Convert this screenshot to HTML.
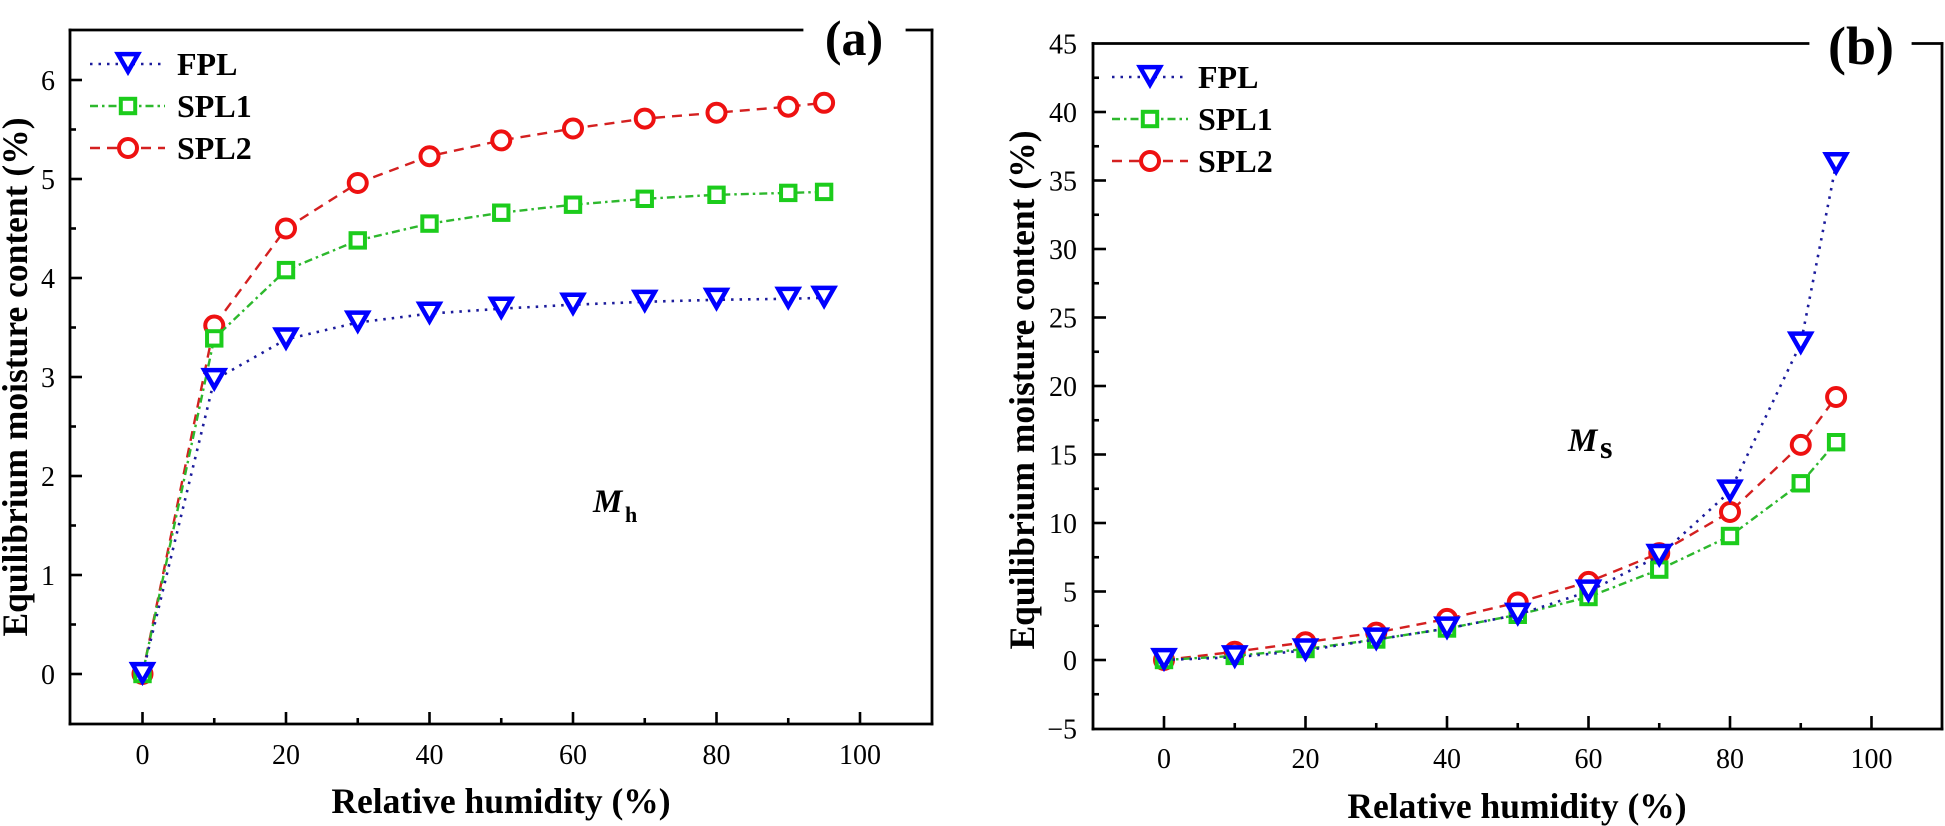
<!DOCTYPE html>
<html><head><meta charset="utf-8"><style>
html,body{margin:0;padding:0;background:#fff;}
svg{display:block;}
text{font-family:"Liberation Serif","Times New Roman",serif;fill:#000;}
</style></head><body>
<svg width="1945" height="826" viewBox="0 0 1945 826" xmlns="http://www.w3.org/2000/svg">
<defs>
<g id="tri"><path d="M-10,-9.9 L10,-9.9 L0,7.6 Z" fill="#fff" stroke="#0000ff" stroke-width="4.5" stroke-linejoin="miter"/></g>
<g id="sq"><rect x="-7.2" y="-7.2" width="14.4" height="14.4" fill="#fff" stroke="#1ccc1c" stroke-width="4"/></g>
<g id="ci"><circle r="9" fill="#fff" stroke="#ee1111" stroke-width="4"/></g>
</defs>
<rect width="1945" height="826" fill="#fff"/>

<!-- ================= PANEL A ================= -->
<g stroke="#000" stroke-width="2.8" fill="none" stroke-linecap="square">
<line x1="70" y1="30" x2="70" y2="724"/>
<line x1="70" y1="724" x2="932" y2="724"/>
<line x1="932" y1="30" x2="932" y2="724"/>
<line x1="70" y1="30" x2="802" y2="30"/>
<line x1="907" y1="30" x2="932" y2="30"/>
</g>
<g stroke="#000" stroke-width="2.6">
<!-- y major -->
<line x1="70" y1="674" x2="82" y2="674"/><line x1="70" y1="575" x2="82" y2="575"/><line x1="70" y1="476" x2="82" y2="476"/><line x1="70" y1="377" x2="82" y2="377"/><line x1="70" y1="278" x2="82" y2="278"/><line x1="70" y1="179" x2="82" y2="179"/><line x1="70" y1="80" x2="82" y2="80"/>
<!-- y minor -->
<line x1="70" y1="624.5" x2="76" y2="624.5"/><line x1="70" y1="525.5" x2="76" y2="525.5"/><line x1="70" y1="426.5" x2="76" y2="426.5"/><line x1="70" y1="327.5" x2="76" y2="327.5"/><line x1="70" y1="228.5" x2="76" y2="228.5"/><line x1="70" y1="129.5" x2="76" y2="129.5"/>
<!-- x major -->
<line x1="142.5" y1="724" x2="142.5" y2="712"/><line x1="286" y1="724" x2="286" y2="712"/><line x1="429.5" y1="724" x2="429.5" y2="712"/><line x1="573" y1="724" x2="573" y2="712"/><line x1="716.5" y1="724" x2="716.5" y2="712"/><line x1="860" y1="724" x2="860" y2="712"/>
<!-- x minor -->
<line x1="214.25" y1="724" x2="214.25" y2="718"/><line x1="357.75" y1="724" x2="357.75" y2="718"/><line x1="501.25" y1="724" x2="501.25" y2="718"/><line x1="644.75" y1="724" x2="644.75" y2="718"/><line x1="788.25" y1="724" x2="788.25" y2="718"/>
</g>
<g font-size="28" text-anchor="end">
<text x="55" y="684">0</text><text x="55" y="585">1</text><text x="55" y="486">2</text><text x="55" y="387">3</text><text x="55" y="288">4</text><text x="55" y="189">5</text><text x="55" y="90">6</text>
</g>
<g font-size="28" text-anchor="middle">
<text x="142.5" y="764">0</text><text x="286" y="764">20</text><text x="429.5" y="764">40</text><text x="573" y="764">60</text><text x="716.5" y="764">80</text><text x="860" y="764">100</text>
</g>
<text x="501" y="813" font-size="35.5" font-weight="bold" text-anchor="middle">Relative humidity (%)</text>
<text transform="translate(27,377) rotate(-90)" font-size="35.5" font-weight="bold" text-anchor="middle">Equilibrium moisture content (%)</text>
<text x="854" y="55" font-size="50" font-weight="bold" text-anchor="middle">(a)</text>

<!-- series A -->
<polyline fill="none" stroke="#d42020" stroke-width="2.4" stroke-dasharray="10 7" points="142.5,674 214.25,325.5 286,228.5 357.75,183 429.5,156.2 501.25,140.4 573,128.5 644.75,118.6 716.5,112.7 788.25,106.7 824.1,102.8"/>
<g><use href="#ci" x="142.5" y="674"/><use href="#ci" x="214.25" y="325.5"/><use href="#ci" x="286" y="228.5"/><use href="#ci" x="357.75" y="183"/><use href="#ci" x="429.5" y="156.2"/><use href="#ci" x="501.25" y="140.4"/><use href="#ci" x="573" y="128.5"/><use href="#ci" x="644.75" y="118.6"/><use href="#ci" x="716.5" y="112.7"/><use href="#ci" x="788.25" y="106.7"/><use href="#ci" x="824.1" y="102.8"/></g>
<polyline fill="none" stroke="#2db82d" stroke-width="2.4" stroke-dasharray="8 4 2.5 4" points="142.5,674 214.25,338.4 286,270.1 357.75,240.4 429.5,223.6 501.25,212.7 573,204.7 644.75,198.8 716.5,194.8 788.25,192.9 824.1,191.9"/>
<g><use href="#sq" x="142.5" y="674"/><use href="#sq" x="214.25" y="338.4"/><use href="#sq" x="286" y="270.1"/><use href="#sq" x="357.75" y="240.4"/><use href="#sq" x="429.5" y="223.6"/><use href="#sq" x="501.25" y="212.7"/><use href="#sq" x="573" y="204.7"/><use href="#sq" x="644.75" y="198.8"/><use href="#sq" x="716.5" y="194.8"/><use href="#sq" x="788.25" y="192.9"/><use href="#sq" x="824.1" y="191.9"/></g>
<polyline fill="none" stroke="#1c1c9c" stroke-width="2.6" stroke-dasharray="2.5 6" points="142.5,674 214.25,380 286,339.4 357.75,322.5 429.5,313.6 501.25,308.7 573,304.7 644.75,301.8 716.5,299.8 788.25,298.8 824.1,297.8"/>
<g><use href="#tri" x="142.5" y="674"/><use href="#tri" x="214.25" y="380"/><use href="#tri" x="286" y="339.4"/><use href="#tri" x="357.75" y="322.5"/><use href="#tri" x="429.5" y="313.6"/><use href="#tri" x="501.25" y="308.7"/><use href="#tri" x="573" y="304.7"/><use href="#tri" x="644.75" y="301.8"/><use href="#tri" x="716.5" y="299.8"/><use href="#tri" x="788.25" y="298.8"/><use href="#tri" x="824.1" y="297.8"/></g>

<!-- legend A -->
<line x1="90" y1="64" x2="165" y2="64" stroke="#1c1c9c" stroke-width="2.6" stroke-dasharray="2.5 6"/>
<use href="#tri" x="128" y="64"/>
<line x1="90" y1="106" x2="165" y2="106" stroke="#2db82d" stroke-width="2.4" stroke-dasharray="8 4 2.5 4"/>
<use href="#sq" x="128" y="106"/>
<line x1="90" y1="148" x2="165" y2="148" stroke="#d42020" stroke-width="2.4" stroke-dasharray="10 7"/>
<use href="#ci" x="128" y="148"/>
<g font-size="32" font-weight="bold">
<text x="177" y="75">FPL</text><text x="177" y="117">SPL1</text><text x="177" y="159">SPL2</text>
</g>
<text x="593" y="512" font-size="33" font-weight="bold" font-style="italic">M</text>
<text x="625" y="522" font-size="22" font-weight="bold">h</text>

<!-- ================= PANEL B ================= -->
<g stroke="#000" stroke-width="2.8" fill="none" stroke-linecap="square">
<line x1="1093" y1="43.5" x2="1093" y2="729"/>
<line x1="1093" y1="729" x2="1942" y2="729"/>
<line x1="1942" y1="43.5" x2="1942" y2="729"/>
<line x1="1093" y1="43.5" x2="1808" y2="43.5"/>
<line x1="1913" y1="43.5" x2="1942" y2="43.5"/>
</g>
<g stroke="#000" stroke-width="2.6">
<line x1="1093" y1="660" x2="1106" y2="660"/><line x1="1093" y1="591.5" x2="1106" y2="591.5"/><line x1="1093" y1="523" x2="1106" y2="523"/><line x1="1093" y1="454.5" x2="1106" y2="454.5"/><line x1="1093" y1="386" x2="1106" y2="386"/><line x1="1093" y1="317.5" x2="1106" y2="317.5"/><line x1="1093" y1="249" x2="1106" y2="249"/><line x1="1093" y1="180.5" x2="1106" y2="180.5"/><line x1="1093" y1="112" x2="1106" y2="112"/>
<line x1="1093" y1="694.25" x2="1099" y2="694.25"/><line x1="1093" y1="625.75" x2="1099" y2="625.75"/><line x1="1093" y1="557.25" x2="1099" y2="557.25"/><line x1="1093" y1="488.75" x2="1099" y2="488.75"/><line x1="1093" y1="420.25" x2="1099" y2="420.25"/><line x1="1093" y1="351.75" x2="1099" y2="351.75"/><line x1="1093" y1="283.25" x2="1099" y2="283.25"/><line x1="1093" y1="214.75" x2="1099" y2="214.75"/><line x1="1093" y1="146.25" x2="1099" y2="146.25"/><line x1="1093" y1="77.75" x2="1099" y2="77.75"/>
<line x1="1164" y1="729" x2="1164" y2="716"/><line x1="1305.5" y1="729" x2="1305.5" y2="716"/><line x1="1447" y1="729" x2="1447" y2="716"/><line x1="1588.5" y1="729" x2="1588.5" y2="716"/><line x1="1730" y1="729" x2="1730" y2="716"/><line x1="1871.5" y1="729" x2="1871.5" y2="716"/>
<line x1="1234.75" y1="729" x2="1234.75" y2="723"/><line x1="1376.25" y1="729" x2="1376.25" y2="723"/><line x1="1517.75" y1="729" x2="1517.75" y2="723"/><line x1="1659.25" y1="729" x2="1659.25" y2="723"/><line x1="1800.75" y1="729" x2="1800.75" y2="723"/>
</g>
<g font-size="28" text-anchor="end">
<text x="1077" y="738.5">−5</text><text x="1077" y="670">0</text><text x="1077" y="601.5">5</text><text x="1077" y="533">10</text><text x="1077" y="464.5">15</text><text x="1077" y="396">20</text><text x="1077" y="327.5">25</text><text x="1077" y="259">30</text><text x="1077" y="190.5">35</text><text x="1077" y="122">40</text><text x="1077" y="53.5">45</text>
</g>
<g font-size="28" text-anchor="middle">
<text x="1164" y="768">0</text><text x="1305.5" y="768">20</text><text x="1447" y="768">40</text><text x="1588.5" y="768">60</text><text x="1730" y="768">80</text><text x="1871.5" y="768">100</text>
</g>
<text x="1517" y="818" font-size="35.5" font-weight="bold" text-anchor="middle">Relative humidity (%)</text>
<text transform="translate(1034,390) rotate(-90)" font-size="35.5" font-weight="bold" text-anchor="middle">Equilibrium moisture content (%)</text>
<text x="1861" y="64" font-size="54" font-weight="bold" text-anchor="middle">(b)</text>

<!-- series B -->
<polyline fill="none" stroke="#d42020" stroke-width="2.4" stroke-dasharray="10 7" points="1164,660 1234.75,651.8 1305.5,642.2 1376.25,632.6 1447,618.9 1517.75,602.5 1588.5,581.9 1659.25,553.1 1730,512 1800.75,444.9 1836.1,397"/>
<g><use href="#ci" x="1164" y="660"/><use href="#ci" x="1234.75" y="651.8"/><use href="#ci" x="1305.5" y="642.2"/><use href="#ci" x="1376.25" y="632.6"/><use href="#ci" x="1447" y="618.9"/><use href="#ci" x="1517.75" y="602.5"/><use href="#ci" x="1588.5" y="581.9"/><use href="#ci" x="1659.25" y="553.1"/><use href="#ci" x="1730" y="512"/><use href="#ci" x="1800.75" y="444.9"/><use href="#ci" x="1836.1" y="397"/></g>
<polyline fill="none" stroke="#2db82d" stroke-width="2.4" stroke-dasharray="8 4 2.5 4" points="1164,660 1234.75,655.9 1305.5,649 1376.25,639.5 1447,628.5 1517.75,614.8 1588.5,597 1659.25,569.6 1730,536 1800.75,483.3 1836.1,442.2"/>
<g><use href="#sq" x="1164" y="660"/><use href="#sq" x="1234.75" y="655.9"/><use href="#sq" x="1305.5" y="649"/><use href="#sq" x="1376.25" y="639.5"/><use href="#sq" x="1447" y="628.5"/><use href="#sq" x="1517.75" y="614.8"/><use href="#sq" x="1588.5" y="597"/><use href="#sq" x="1659.25" y="569.6"/><use href="#sq" x="1730" y="536"/><use href="#sq" x="1800.75" y="483.3"/><use href="#sq" x="1836.1" y="442.2"/></g>
<polyline fill="none" stroke="#1c1c9c" stroke-width="2.6" stroke-dasharray="2.5 6" points="1164,660 1234.75,657.3 1305.5,650.4 1376.25,639.5 1447,628.5 1517.75,614.8 1588.5,591.5 1659.25,555.9 1730,491.5 1800.75,343.5 1836.1,164.1"/>
<g><use href="#tri" x="1164" y="660"/><use href="#tri" x="1234.75" y="657.3"/><use href="#tri" x="1305.5" y="650.4"/><use href="#tri" x="1376.25" y="639.5"/><use href="#tri" x="1447" y="628.5"/><use href="#tri" x="1517.75" y="614.8"/><use href="#tri" x="1588.5" y="591.5"/><use href="#tri" x="1659.25" y="555.9"/><use href="#tri" x="1730" y="491.5"/><use href="#tri" x="1800.75" y="343.5"/><use href="#tri" x="1836.1" y="164.1"/></g>

<!-- legend B -->
<line x1="1112" y1="77" x2="1188" y2="77" stroke="#1c1c9c" stroke-width="2.6" stroke-dasharray="2.5 6"/>
<use href="#tri" x="1150" y="77"/>
<line x1="1112" y1="119" x2="1188" y2="119" stroke="#2db82d" stroke-width="2.4" stroke-dasharray="8 4 2.5 4"/>
<use href="#sq" x="1150" y="119"/>
<line x1="1112" y1="161" x2="1188" y2="161" stroke="#d42020" stroke-width="2.4" stroke-dasharray="10 7"/>
<use href="#ci" x="1150" y="161"/>
<g font-size="32" font-weight="bold">
<text x="1198" y="88">FPL</text><text x="1198" y="130">SPL1</text><text x="1198" y="172">SPL2</text>
</g>
<text x="1568" y="451" font-size="33" font-weight="bold" font-style="italic">M</text>
<text x="1600" y="458" font-size="32" font-weight="bold">s</text>
</svg>
</body></html>
